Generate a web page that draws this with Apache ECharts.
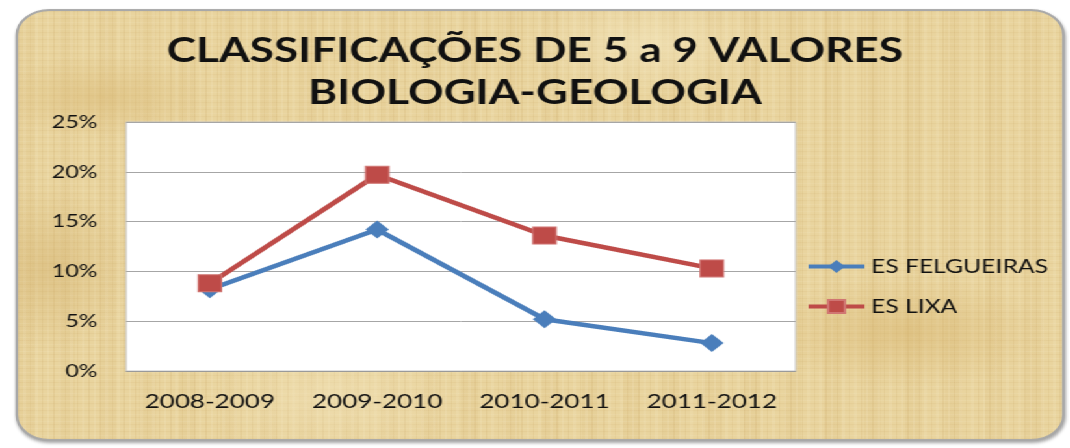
<!DOCTYPE html>
<html>
<head>
<meta charset="utf-8">
<script src="https://cdn.jsdelivr.net/npm/echarts@6/dist/echarts.min.js"></script>
<style>
  html, body { margin: 0; padding: 0; background: #ffffff; overflow: hidden; }
  /* the whole card is drawn at a narrower width and widened horizontally */
  #stage {
    position: absolute; left: 0; top: 0;
    width: 823px; height: 448px;
    transform: scaleX(1.3); transform-origin: 0 0;
  }
  #paper {
    position: absolute; left: 12px; top: 9px; width: 803px; height: 428px;
    border: 2px solid #a8a8a8; border-radius: 26px;
    box-shadow: 1px 2px 3px rgba(0,0,0,0.35);
    background-color: #e9d49e;
    background-image:
      radial-gradient(ellipse 120px 60px at 8% 20%, rgba(214,180,110,0.45), rgba(214,180,110,0) 70%),
      radial-gradient(ellipse 160px 80px at 85% 75%, rgba(212,176,104,0.45), rgba(212,176,104,0) 70%),
      radial-gradient(ellipse 140px 70px at 60% 8%, rgba(246,234,196,0.55), rgba(246,234,196,0) 70%),
      radial-gradient(ellipse 150px 90px at 30% 90%, rgba(244,230,190,0.5), rgba(244,230,190,0) 70%),
      radial-gradient(ellipse 90px 120px at 3% 60%, rgba(206,170,100,0.4), rgba(206,170,100,0) 70%),
      repeating-linear-gradient(90deg, rgba(190,150,80,0.12) 0px, rgba(190,150,80,0.12) 1px, rgba(255,255,255,0) 1px, rgba(255,255,255,0) 4px, rgba(250,240,210,0.14) 4px, rgba(250,240,210,0.14) 6px, rgba(255,255,255,0) 6px, rgba(255,255,255,0) 9px),
      repeating-linear-gradient(0deg, rgba(190,150,80,0.09) 0px, rgba(190,150,80,0.09) 1px, rgba(255,255,255,0) 1px, rgba(255,255,255,0) 3px, rgba(250,240,210,0.12) 3px, rgba(250,240,210,0.12) 4px, rgba(255,255,255,0) 4px, rgba(255,255,255,0) 7px),
      repeating-linear-gradient(90deg, rgba(200,160,90,0.08) 0px, rgba(200,160,90,0.08) 13px, rgba(255,255,255,0) 13px, rgba(255,255,255,0) 31px);
  }
  #chart { position: absolute; left: 0; top: 0; width: 823px; height: 448px; }
</style>
</head>
<body>
<div id="stage">
  <div id="paper"></div>
  <div id="chart"></div>
</div>
<script>
// School years on the horizontal axis
const years = ['2008-2009', '2009-2010', '2010-2011', '2011-2012'];

// Share of grades between 5 and 9 (percent) per school
const felgueiras = [8.2, 14.2, 5.2, 2.8];
const lixa = [8.8, 19.7, 13.6, 10.3];

// Value axis range (percent)
const yMin = 0;
const yMax = 25;
const yStep = 5;

const chart = echarts.init(document.getElementById('chart'), null, { renderer: 'canvas' });

chart.setOption({
  backgroundColor: 'transparent',
  animation: false,
  title: {
    text: 'CLASSIFICAÇÕES DE 5 a 9 VALORES\nBIOLOGIA-GEOLOGIA',
    left: 'center',
    top: 30,
    padding: 0,
    textStyle: {
      fontFamily: 'Lato',
      fontWeight: 'bold',
      fontSize: 34,
      lineHeight: 42,
      color: '#111111'
    }
  },
  legend: {
    orient: 'vertical',
    left: 620,
    top: 257,
    padding: 0,
    itemWidth: 43,
    itemHeight: 16,
    itemGap: 21,
    lineStyle: { width: 4 },
    textStyle: { fontFamily: 'Lato', fontSize: 19, color: '#111111' },
    data: ['ES FELGUEIRAS', 'ES LIXA']
  },
  grid: {
    left: 97,
    top: 122,
    width: 515,
    height: 249,
    show: true,
    backgroundColor: '#ffffff',
    borderColor: '#c4c4c4',
    borderWidth: 1
  },
  xAxis: {
    type: 'category',
    data: years,
    boundaryGap: true,
    axisTick: { show: false },
    axisLine: { show: true, lineStyle: { color: '#9a9a9a', width: 1 } },
    axisLabel: {
      interval: 0,
      fontFamily: 'Lato',
      fontSize: 20,
      color: '#111111',
      margin: 21
    }
  },
  yAxis: {
    type: 'value',
    min: yMin,
    max: yMax,
    interval: yStep,
    axisLine: { show: false },
    axisTick: { show: false },
    splitLine: { lineStyle: { color: '#a6a6a6', width: 1 } },
    axisLabel: {
      formatter: '{value}%',
      fontFamily: 'Lato',
      fontSize: 18,
      color: '#111111',
      margin: 22
    }
  },
  series: [
    {
      name: 'ES FELGUEIRAS',
      type: 'line',
      data: felgueiras,
      symbol: 'diamond',
      symbolSize: [18, 18],
      showAllSymbol: true,
      lineStyle: { color: '#4a7ebb', width: 4.5 },
      itemStyle: { color: '#4a7ebb', borderColor: '#4a7ebb', borderWidth: 0 },
      z: 2
    },
    {
      name: 'ES LIXA',
      type: 'line',
      data: lixa,
      symbol: 'rect',
      symbolSize: [18, 17],
      showAllSymbol: true,
      lineStyle: { color: '#be4b48', width: 4.5 },
      itemStyle: { color: '#be4b48', borderColor: '#d07572', borderWidth: 1 },
      z: 3
    }
  ]
});
</script>
</body>
</html>
